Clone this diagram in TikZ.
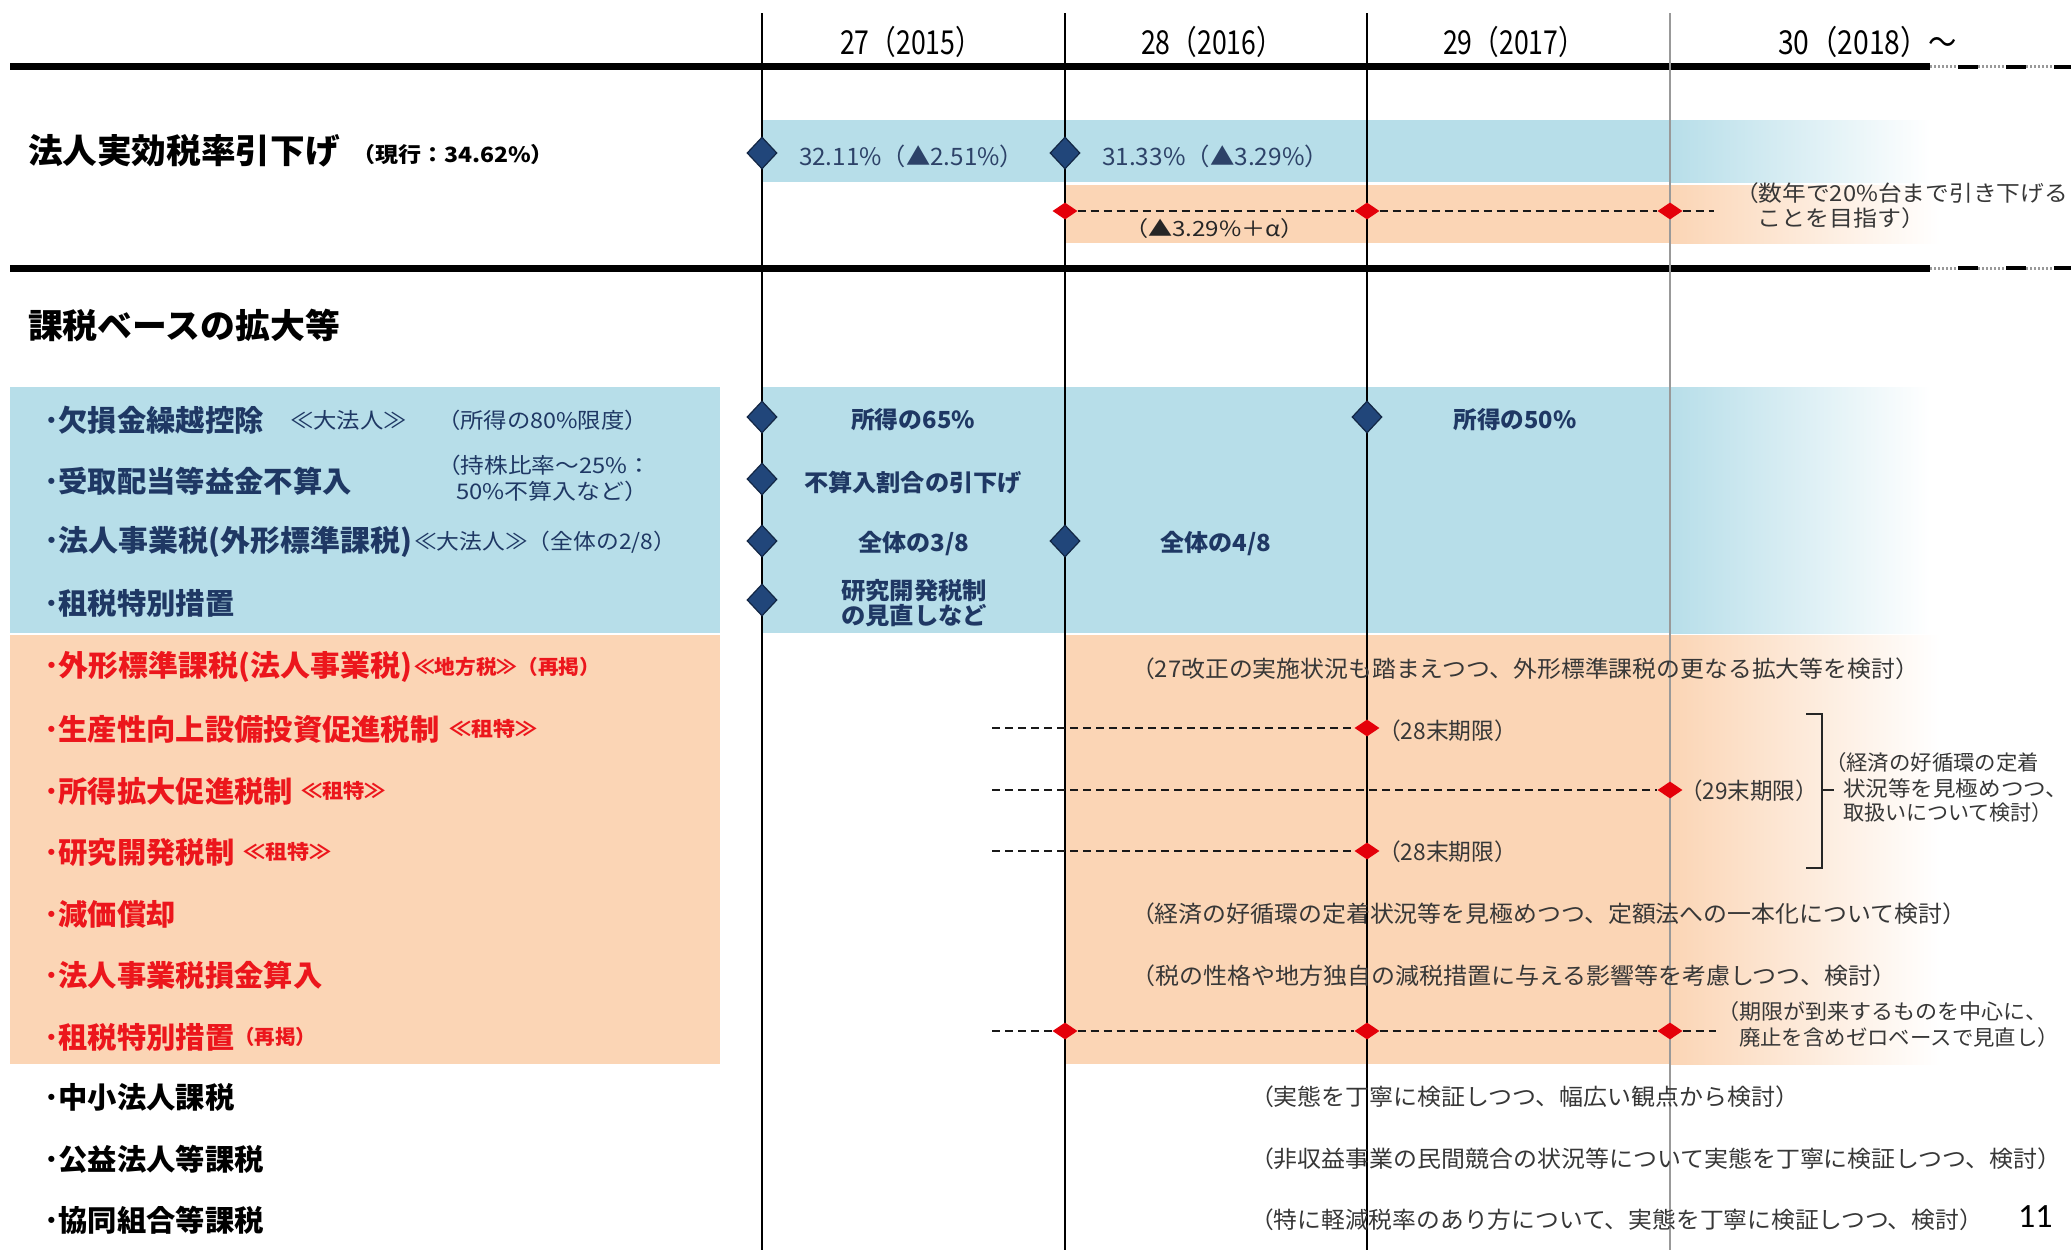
\documentclass[tikz,border=0pt]{standalone}
\usepackage{graphicx}
\usepackage{fontspec}
\setmainfont{Carlito}
\newfontfamily\jp{Noto Sans CJK JP}
\usetikzlibrary{shapes.geometric}
\definecolor{bandblue}{RGB}{183,222,233}
\definecolor{bandorange}{RGB}{251,213,181}
\definecolor{navytext}{RGB}{31,56,100}
\definecolor{navyband}{RGB}{45,66,104}
\definecolor{redtext}{RGB}{236,22,28}
\definecolor{diafill}{RGB}{33,70,122}
\definecolor{diaedge}{RGB}{18,38,68}
\definecolor{notegray}{RGB}{55,55,55}
\definecolor{reddia}{RGB}{228,0,10}
\newcommand\tw[2]{\resizebox{#1pt}{\height}{#2}}
\newcommand\fs[1]{\fontsize{#1}{#1}\selectfont}
\tikzset{
  base/.style={inner sep=0pt, outer sep=0pt},
  yr/.style={base, anchor=west, font={\jp\fs{33}}, text=black},
  ttl/.style={base, anchor=west, font={\jp\bfseries\fs{34}}, text=black},
  ttlsub/.style={base, anchor=west, font={\jp\bfseries\fs{21}}, text=black},
  bandtxt/.style={base, anchor=west, font={\jp\fs{24}}, text=navyband},
  lbl/.style={base, anchor=west, font={\jp\bfseries\fs{29.3}}},
  lblsub/.style={base, anchor=west, font={\jp\fs{21.5}}},
  redsub/.style={base, anchor=west, font={\jp\bfseries\fs{20}}, text=redtext},
  bval/.style={base, font={\jp\bfseries\fs{23.5}}, text=navytext},
  note/.style={base, anchor=west, font={\jp\fs{23}}, text=notegray},
  notesm/.style={base, anchor=west, font={\jp\fs{21}}, text=notegray},
  bdia/.style={diamond, fill=diafill, draw=diaedge, line width=1.2pt, minimum width=30pt, minimum height=32pt, inner sep=0pt},
  rdia/.style={diamond, fill=reddia, draw=none, minimum width=25pt, minimum height=17pt, inner sep=0pt},
  dline/.style={line width=2.8pt, black!90, dash pattern=on 8pt off 5pt},
  vline/.style={line width=1.6pt, black},
  vlinegray/.style={line width=1.4pt, black!40},
  rulethick/.style={line width=7pt, black},
  ruledots/.style={line width=3pt, black!40, dash pattern=on 2pt off 2pt},
  ruledash/.style={line width=4pt, black, dash pattern=on 20pt off 28pt, dash phase=20pt},
  bracket/.style={line width=2pt, black!85}
}
\begin{document}
\begin{tikzpicture}[x=1pt,y=-1pt]
\useasboundingbox[fill=white] (0,0) rectangle (2071,1250);

% ---------- colour bands ----------
\fill[bandblue] (762,120) rectangle (1670,182);
\shade[left color=bandblue,right color=white] (1670,120) rectangle (1930,182);
\fill[bandorange] (1065,185) rectangle (1670,243);
\shade[left color=bandorange,right color=white] (1670,185) rectangle (1940,243);
\fill[bandblue] (10,387) rectangle (720,633);
\fill[bandorange] (10,635) rectangle (720,1064);
\fill[bandblue] (762,387) rectangle (1670,633);
\shade[left color=bandblue,right color=white] (1670,387) rectangle (1930,633);
\fill[bandorange] (1065,635) rectangle (1670,1064);
\shade[left color=bandorange,right color=white] (1670,635) rectangle (1940,1064);

% ---------- horizontal rules ----------
\coordinate (hA1) at (10,66.5); \coordinate (hA2) at (1930,66.5); \coordinate (hA3) at (2071,66.5);
\draw[rulethick] (hA1) -- (hA2);
\draw[ruledots] (hA2) -- (hA3);
\draw[ruledash] (hA2) -- (hA3);
\coordinate (hB1) at (10,268); \coordinate (hB2) at (1930,268); \coordinate (hB3) at (2071,268);
\draw[rulethick] (hB1) -- (hB2);
\draw[ruledots] (hB2) -- (hB3);
\draw[ruledash] (hB2) -- (hB3);

% ---------- year lines ----------
\foreach \n/\x in {1/762,2/1065,3/1367} {
  \coordinate (vt\n) at (\x,13); \coordinate (vb\n) at (\x,1250);
  \draw[vline] (vt\n) -- (vb\n);
}
\coordinate (vt4) at (1670,13); \coordinate (vb4) at (1670,1250);
\draw[vlinegray] (vt4) -- (vb4);

% ---------- year labels ----------
\node[yr] (y27) at (840,42) {\tw{142}{27（2015）}};
\node[yr] (y28) at (1141,42) {\tw{142}{28（2016）}};
\node[yr] (y29) at (1443,42) {\tw{142}{29（2017）}};
\node[yr] (y30) at (1778,42) {\tw{179}{30（2018）～}};

% ---------- row: tax rate ----------
\node[ttl] (t1) at (28,151) {\tw{312}{法人実効税率引下げ}};
\node[ttlsub] (t1s) at (352,155) {\tw{202}{（現行：34.62\%）}};

\node[bdia] (bd1) at (762,153) {};
\node[bdia] (bd2) at (1065,153) {};
\node[bandtxt] (r1a) at (799,156) {\tw{225}{32.11\%（▲2.51\%）}};
\node[bandtxt] (r1b) at (1102,156) {\tw{227}{31.33\%（▲3.29\%）}};

\node[rdia] (rd1) at (1065,211) {};
\node[rdia] (rd2) at (1367,211) {};
\node[rdia] (rd3) at (1670,211) {};
\coordinate (re1) at (1714,211);
\draw[dline] (rd1) -- (rd2);
\draw[dline] (rd2) -- (rd3);
\draw[dline] (rd3) -- (re1);
\node[base, anchor=west, font={\jp\fs{21}}, text=black!85] (r1c) at (1124,229) {\tw{181}{（▲3.29\%＋α）}};
\node[note, font={\jp\fs{22}}] (r1n1) at (1735,193) {\tw{333}{（数年で20\%台まで引き下げる}};
\node[note, font={\jp\fs{22}}] (r1n2) at (1757,218) {\tw{168}{ことを目指す）}};

% ---------- section title ----------
\node[ttl] (t2) at (28,325) {\tw{312}{課税ベースの拡大等}};

% ---------- blue rows (left) ----------
\node[lbl, text=navytext] (b1) at (44,420) {･欠損金繰越控除};
\node[lblsub, text=navytext] (b1s) at (290,420) {\tw{117}{≪大法人≫}};
\node[lblsub, text=navytext] (b1n) at (437,420) {\tw{211}{（所得の80\%限度）}};
\node[lbl, text=navytext] (b2) at (44,481) {･受取配当等益金不算入};
\node[lblsub, text=navytext] (b2n1) at (437,465) {\tw{214}{（持株比率～25\%：}};
\node[lblsub, text=navytext] (b2n2) at (456,491) {\tw{192}{50\%不算入など）}};
\node[lbl, text=navytext] (b3) at (44,542) {\tw{368}{･法人事業税(外形標準課税)}};
\node[lblsub, text=navytext] (b3s) at (414,542) {\tw{262}{≪大法人≫（全体の2/8）}};
\node[lbl, text=navytext] (b4) at (44,603) {･租税特別措置};

% ---------- blue rows (timeline) ----------
\node[bdia] (d11) at (762,417) {};
\node[bdia] (d12) at (1367,417) {};
\node[bdia] (d21) at (762,479) {};
\node[bdia] (d31) at (762,541) {};
\node[bdia] (d32) at (1065,541) {};
\node[bdia] (d41) at (762,600) {};
\node[bval] (v11) at (913,420) {\tw{124}{所得の65\%}};
\node[bval] (v12) at (1515,420) {\tw{123}{所得の50\%}};
\node[bval] (v21) at (913,483) {\tw{218}{不算入割合の引下げ}};
\node[bval] (v31) at (914,544) {\tw{111}{全体の3/8}};
\node[bval] (v32) at (1216,544) {\tw{111}{全体の4/8}};
\node[bval] (v41) at (914,591) {\tw{146}{研究開発税制}};
\node[bval] (v42) at (914,616) {\tw{146}{の見直しなど}};

% ---------- orange rows (left) ----------
\node[lbl, text=redtext] (o1) at (44,667) {\tw{368}{･外形標準課税(法人事業税)}};
\node[redsub] (o1s) at (414,667) {\tw{186}{≪地方税≫（再掲）}};
\node[lbl, text=redtext] (o2) at (44,729) {･生産性向上設備投資促進税制};
\node[redsub] (o2s) at (449,729) {\tw{88}{≪租特≫}};
\node[lbl, text=redtext] (o3) at (44,791) {･所得拡大促進税制};
\node[redsub] (o3s) at (301,791) {\tw{85}{≪租特≫}};
\node[lbl, text=redtext] (o4) at (44,852) {･研究開発税制};
\node[redsub] (o4s) at (243,852) {\tw{88}{≪租特≫}};
\node[lbl, text=redtext] (o5) at (44,914) {･減価償却};
\node[lbl, text=redtext] (o6) at (44,975) {･法人事業税損金算入};
\node[lbl, text=redtext] (o7) at (44,1037) {･租税特別措置};
\node[redsub] (o7s) at (234,1037) {\tw{82}{（再掲）}};

% ---------- orange rows (timeline) ----------
\node[note] (n1) at (1131,669) {\tw{788}{（27改正の実施状況も踏まえつつ、外形標準課税の更なる拡大等を検討）}};

\coordinate (s2) at (992,728);
\node[rdia] (rd21) at (1367,728) {};
\draw[dline] (s2) -- (rd21);
\node[note] (n2) at (1378,731) {\tw{139}{（28末期限）}};

\coordinate (s3) at (992,790);
\node[rdia] (rd31) at (1670,790) {};
\draw[dline] (s3) -- (rd31);
\node[note] (n3) at (1680,791) {\tw{138}{（29末期限）}};

\coordinate (s4) at (992,851);
\node[rdia] (rd41) at (1367,851) {};
\draw[dline] (s4) -- (rd41);
\node[note] (n4) at (1378,852) {\tw{139}{（28末期限）}};

\coordinate (br1) at (1806,714); \coordinate (br2) at (1822,714);
\coordinate (br3) at (1822,868); \coordinate (br4) at (1806,868);
\coordinate (brm) at (1822,790); \coordinate (brt) at (1834,790);
\draw[bracket] (br1) -- (br2) -- (br3) -- (br4);
\draw[bracket] (brm) -- (brt);
\node[notesm] (n5a) at (1825,763) {\tw{214}{（経済の好循環の定着}};
\node[notesm] (n5b) at (1843,788) {\tw{225}{状況等を見極めつつ、}};
\node[notesm] (n5c) at (1843,813) {\tw{210}{取扱いについて検討）}};

\node[note] (n6) at (1131,914) {\tw{835}{（経済の好循環の定着状況等を見極めつつ、定額法への一本化について検討）}};
\node[note] (n7) at (1131,976) {\tw{765}{（税の性格や地方独自の減税措置に与える影響等を考慮しつつ、検討）}};

\coordinate (s8) at (992,1031);
\node[rdia] (rd81) at (1065,1031) {};
\node[rdia] (rd82) at (1367,1031) {};
\node[rdia] (rd83) at (1670,1031) {};
\coordinate (e8) at (1716,1031);
\draw[dline] (s8) -- (rd81);
\draw[dline] (rd81) -- (rd82);
\draw[dline] (rd82) -- (rd83);
\draw[dline] (rd83) -- (e8);
\node[notesm] (n8a) at (1717,1012) {\tw{330}{（期限が到来するものを中心に、}};
\node[notesm] (n8b) at (1739,1038) {\tw{320}{廃止を含めゼロベースで見直し）}};

% ---------- bottom rows ----------
\node[lbl, text=black] (k1) at (44,1097) {･中小法人課税};
\node[lbl, text=black] (k2) at (44,1159) {･公益法人等課税};
\node[lbl, text=black] (k3) at (44,1220) {･協同組合等課税};
\node[note] (m1) at (1250,1097) {\tw{549}{（実態を丁寧に検証しつつ、幅広い観点から検討）}};
\node[note] (m2) at (1250,1159) {\tw{811}{（非収益事業の民間競合の状況等について実態を丁寧に検証しつつ、検討）}};
\node[note] (m3) at (1250,1220) {\tw{733}{（特に軽減税率のあり方について、実態を丁寧に検証しつつ、検討）}};

\node[base, anchor=west, font=\fs{34}, text=black] (pg) at (2018,1217) {11};
\end{tikzpicture}
\end{document}
